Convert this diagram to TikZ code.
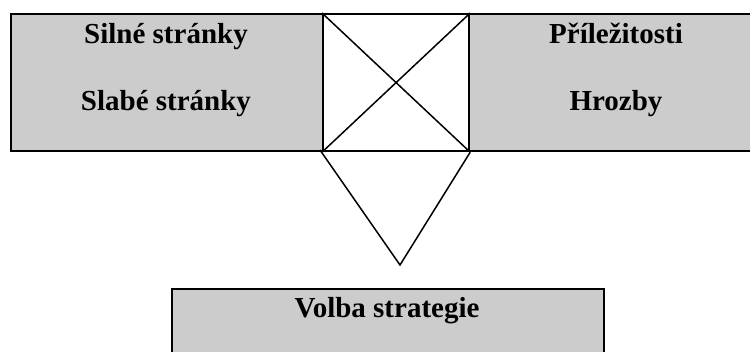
\documentclass[tikz,border=0pt]{standalone}
\usepackage{fontspec}
\setmainfont{Liberation Serif}
\begin{document}
\begin{tikzpicture}[x=1pt,y=-1pt,
  panel/.style={draw=black,line width=2.2pt,fill=black!20,rectangle,inner sep=0pt,anchor=north west},
  label/.style={font=\fontsize{29}{30}\selectfont\bfseries,inner sep=0pt,anchor=base},
  thin/.style={draw=black,line width=1.5pt}]
  \useasboundingbox (0,0) rectangle (750,351);
  \clip (0,0) rectangle (750,351);
  % left panel: strengths and weaknesses
  \node[panel,minimum width=312pt,minimum height=137pt] (sw) at (10,13) {};
  % right panel: opportunities and threats (runs past the right edge)
  \node[panel,minimum width=300pt,minimum height=137pt] (ot) at (468,13) {};
  % crossed square between the panels
  \node[panel,fill=white,minimum width=146pt,minimum height=137pt] (sq) at (322,13) {};
  \draw[thin] (sq.north west) -- (sq.south east);
  \draw[thin] (sq.north east) -- (sq.south west);
  % funnel down to the strategy choice
  \coordinate (apex) at (400,265);
  \coordinate (fl) at (320,150);
  \draw[thin] (fl) -- (apex) -- (sq.south east);
  % strategy panel (runs past the bottom edge)
  \node[panel,minimum width=432pt,minimum height=80pt] (vs) at (171,288) {};
  % texts
  \node[label] (s) at (166,43) {Silné stránky};
  \node[label] (w) at (166,110) {Slabé stránky};
  \node[label] (o) at (616,43) {Příležitosti};
  \node[label] (t) at (616,110) {Hrozby};
  \node[label] (v) at (387,317) {Volba strategie};
\end{tikzpicture}
\end{document}
